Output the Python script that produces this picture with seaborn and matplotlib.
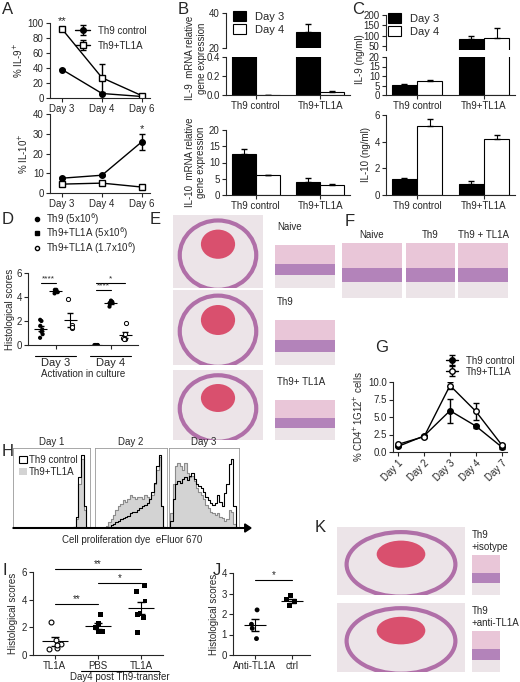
import numpy as np
import pandas as pd
import matplotlib
matplotlib.use("Agg")
import matplotlib.pyplot as plt
import seaborn as sns
from matplotlib.patches import Ellipse, Rectangle

sns.set_style("ticks")
plt.rcParams['font.family'] = ['Liberation Sans', 'DejaVu Sans']
plt.rcParams['font.size'] = 7
plt.rcParams['axes.linewidth'] = 0.8

# ---- data ----
days_a = ["Day 3", "Day 4", "Day 6"]
il9_ctrl = [38, 6, 2]
il9_ctrl_err = [1, 1, 0.5]
il9_tl1a = [92, 27, 3]
il9_tl1a_err = [1, 19, 0.5]
il10_ctrl = [7.5, 9, 26]
il10_ctrl_err = [0.5, 0.5, 4]
il10_tl1a = [4.5, 5, 3]
il10_tl1a_err = [0.5, 0.5, 0.5]

groups_bc = ["Th9 control", "Th9+TL1A"]
days_bc = ["Day 3", "Day 4"]
il9_mrna = {"Day 3": [15, 29], "Day 4": [0.003, 0.035]}
il9_mrna_err = {"Day 3": [2, 5], "Day 4": [0.001, 0.005]}
il10_mrna = {"Day 3": [12.5, 4], "Day 4": [6.2, 3.2]}
il10_mrna_err = {"Day 3": [1.8, 1.2], "Day 4": [0.1, 0.2]}
il9_prot = {"Day 3": [5.2, 85], "Day 4": [7.3, 90]}
il9_prot_err = {"Day 3": [0.5, 12], "Day 4": [0.5, 45]}
il10_prot = {"Day 3": [1.2, 0.8], "Day 4": [5.2, 4.2]}
il10_prot_err = {"Day 3": [0.1, 0.25], "Day 4": [0.5, 0.3]}

d_labels = ["Th9 (5x10$^6$)", "Th9+TL1A (5x10$^6$)", "Th9+TL1A (1.7x10$^6$)"]
d_day3 = [[2.1, 2.0, 1.6, 1.3, 1.1, 0.9, 0.6], [4.6, 4.5, 4.4, 4.3, 4.6], [3.8, 1.7, 1.4, 1.5]]
d_day4 = [[0, 0, 0, 0, 0], [3.7, 3.6, 3.5, 3.4, 3.2, 3.6], [1.8, 0.9, 0.6, 0.5, 0.5]]

days_g = ["Day 1", "Day 2", "Day 3", "Day 4", "Day 7"]
g_ctrl = [0.8, 2.3, 5.9, 3.7, 0.7]
g_ctrl_err = [0.1, 0.2, 1.7, 0.2, 0.2]
g_tl1a = [1.1, 2.2, 9.5, 5.8, 1.0]
g_tl1a_err = [0.1, 0.2, 0.5, 1.2, 0.2]

h_days = ["Day 1", "Day 2", "Day 3"]
h_ctrl = [
    [0]*24 + [0.02, 0.15, 0.7, 1.0, 0.3, 0.02],
    [0]*6 + [0.02, 0.04, 0.06, 0.08, 0.1, 0.12, 0.14, 0.15, 0.17, 0.2, 0.22, 0.22, 0.25, 0.28, 0.3, 0.32, 0.35, 0.4, 0.5, 0.62, 0.85, 1.0, 0.3, 0.02],
    [0.02, 0.1, 0.4, 0.6, 0.65, 0.62, 0.68, 0.7, 0.66, 0.72, 0.75, 0.68, 0.6, 0.58, 0.55, 0.5, 0.42, 0.38, 0.35, 0.32, 0.35, 0.45, 0.36, 0.3, 0.48, 0.6, 0.88, 0.95, 0.3, 0.02],
]
h_tl1a = [
    [0]*24 + [0.02, 0.12, 0.6, 0.95, 0.25, 0.02],
    [0]*5 + [0.03, 0.08, 0.12, 0.18, 0.25, 0.3, 0.33, 0.38, 0.36, 0.4, 0.45, 0.42, 0.4, 0.43, 0.42, 0.4, 0.45, 0.42, 0.4, 0.45, 0.6, 0.8, 0.98, 0.3, 0.02],
    [0.02, 0.2, 0.6, 0.85, 0.9, 0.85, 0.8, 0.9, 0.75, 0.7, 0.72, 0.65, 0.55, 0.5, 0.45, 0.4, 0.32, 0.28, 0.22, 0.2, 0.18, 0.2, 0.15, 0.14, 0.1, 0.12, 0.25, 0.22, 0.05, 0.01],
]

i_groups = ["TL1A", "PBS", "TL1A "]
i_vals = [[2.4, 1.1, 0.8, 0.5, 0.4, 0.7], [2.9, 2.3, 2.0, 1.7, 1.7], [5.0, 4.6, 3.9, 3.0, 2.9, 2.7, 1.6]]
j_groups = ["Anti-TL1A", "ctrl"]
j_vals = [[2.2, 1.5, 1.3, 0.8], [2.9, 2.7, 2.6, 2.4]]

W, H = 520, 682
fig = plt.figure(figsize=(W / 100, H / 100), dpi=100)


def ax_px(x0, y0, x1, y1, **kw):
    return fig.add_axes([x0 / W, 1 - y1 / H, (x1 - x0) / W, (y1 - y0) / H], **kw)


def letter(x, y, s):
    fig.text(x / W, 1 - y / H, s, fontsize=12, va="top", ha="left")


def despine(ax):
    sns.despine(ax=ax)
    ax.tick_params(length=3, width=0.8, pad=1.5)


# ---- A ----
for (y0, y1), c, ce, t, te, ylab, ylim, yt in [
        ((23, 98), il9_ctrl, il9_ctrl_err, il9_tl1a, il9_tl1a_err, "% IL-9$^{+}$", 100, range(0, 101, 20)),
        ((114, 193), il10_ctrl, il10_ctrl_err, il10_tl1a, il10_tl1a_err, "% IL-10$^{+}$", 40, range(0, 41, 10))]:
    ax = ax_px(50, y0, 150, y1)
    x = np.arange(3)
    ax.errorbar(x, c, yerr=ce, color="black", marker="o", ms=4, lw=1, capsize=2, label="Th9 control")
    ax.errorbar(x, t, yerr=te, color="black", marker="s", ms=4, mfc="white", lw=1, capsize=2, label="Th9+TL1A")
    ax.set_xticks(x, days_a)
    ax.set_xlim(-0.3, 2.2)
    ax.set_ylim(0, ylim)
    ax.set_yticks(list(yt))
    ax.set_ylabel(ylab, labelpad=2)
    despine(ax)
    if ylim == 100:
        ax.legend(frameon=False, loc="upper right", bbox_to_anchor=(1.05, 1.08), handlelength=1.5, fontsize=7)
        ax.text(0, 98, "**", ha="center", fontsize=8)
    else:
        ax.text(2, 31, "*", ha="center", fontsize=8)
letter(2, 2, "A")


def bars(ax, data, err, legend=False):
    df = pd.DataFrame([(g, d, data[d][i]) for d in days_bc for i, g in enumerate(groups_bc)],
                      columns=["group", "day", "val"])
    sns.barplot(data=df, x="group", y="val", hue="day", palette=["black", "white"],
                edgecolor="black", linewidth=0.8, width=0.75, errorbar=None, ax=ax, legend=legend)
    k = 0
    for d in days_bc:
        for i in range(2):
            p = ax.patches[k]
            xc = p.get_x() + p.get_width() / 2
            ax.errorbar(xc, data[d][i], yerr=[[0], [err[d][i]]], color="black", lw=0.8, capsize=2.5)
            k += 1
    ax.set_xlabel("")
    ax.set_ylabel("")


def broken(xr, yu, yl, data, err, lim_u, tick_u, lim_l, tick_l, ylab, leg_x, lab_dx):
    au = ax_px(xr[0], yu[0], xr[1], yu[1])
    al = ax_px(xr[0], yl[0], xr[1], yl[1])
    bars(au, data, err, legend=True)
    bars(al, data, err)
    au.set_ylim(*lim_u); au.set_yticks(tick_u)
    al.set_ylim(*lim_l); al.set_yticks(tick_l)
    au.set_xticks([])
    for a in (au, al):
        despine(a)
    au.spines["bottom"].set_visible(False)
    au.tick_params(axis="x", length=0)
    au.legend(frameon=False, loc="upper left", bbox_to_anchor=(leg_x, 1.18), fontsize=8,
              handlelength=1.2, handleheight=1.0, labelspacing=0.2, borderaxespad=0)
    fig.text((xr[0] - lab_dx) / W, 1 - (yu[0] + 8 + yl[1]) / 2 / H, ylab, rotation=90,
             va="center", ha="center")
    return au, al


# ---- B ----
broken((226, 350), (13, 48), (57, 95), il9_mrna, il9_mrna_err, (20, 40), [20, 40],
       (0, 0.4), [0.0, 0.2, 0.4], "IL-9  mRNA relative\ngene expression", 0.02, 30)
ax = ax_px(226, 130, 350, 195)
bars(ax, il10_mrna, il10_mrna_err)
ax.set_ylim(0, 20); ax.set_yticks([0, 5, 10, 15, 20])
ax.set_ylabel("IL-10  mRNA relative\ngene expression", labelpad=2)
despine(ax)
letter(178, 2, "B")

# ---- C ----
broken((386, 515), (15, 50), (57, 95), il9_prot, il9_prot_err, (30, 200), [50, 100, 150, 200],
       (0, 20), [0, 5, 10, 15, 20], "IL-9 (ng/ml)", -0.02, 26)
ax = ax_px(386, 115, 515, 195)
bars(ax, il10_prot, il10_prot_err)
ax.set_ylim(0, 6); ax.set_yticks([0, 2, 4, 6])
ax.set_ylabel("IL-10 (ng/ml)", labelpad=2)
despine(ax)
letter(352, 2, "C")

# ---- D ----
ax = ax_px(28, 273, 138, 345)
rows = []
for day, sets in [("Day 3", d_day3), ("Day 4", d_day4)]:
    for lab, vals in zip(d_labels, sets):
        rows += [(day, lab, v) for v in vals]
dfd = pd.DataFrame(rows, columns=["day", "group", "score"])
mk = {d_labels[0]: "o", d_labels[1]: "s", d_labels[2]: "o"}
fc = ["black", "black", "white"]
sns.stripplot(data=dfd, x="day", y="score", hue="group", dodge=True, jitter=0.12, size=3,
              palette=["black", "black", "black"], ax=ax, legend=False)
for coll in ax.collections[2::3]:
    coll.set_facecolor("white"); coll.set_edgecolor("black"); coll.set_linewidth(0.7)
offs = [-0.27, 0, 0.27]
for di, sets in enumerate([d_day3, d_day4]):
    for gi, vals in enumerate(sets):
        m = np.mean(vals); s = np.std(vals, ddof=1) / np.sqrt(len(vals))
        xc = di + offs[gi]
        ax.hlines(m, xc - 0.12, xc + 0.12, color="black", lw=0.8)
        ax.errorbar(xc, m, yerr=s, color="black", lw=0.8, capsize=2)
ax.set_ylim(0, 6); ax.set_yticks([0, 2, 4, 6])
ax.set_xlim(-0.5, 1.5)
ax.set_xticks([0, 1], ["", ""])
ax.set_xlabel(""); ax.set_ylabel("Histological scores", labelpad=1)
despine(ax)
for x0, x1, y, s in [(-0.27, 0, 5.2, "****"), (0.73, 1.0, 4.6, "****"), (0.73, 1.27, 5.2, "*")]:
    ax.plot([x0, x1], [y, y], color="black", lw=0.8, clip_on=False)
    ax.text((x0 + x1) / 2, y, s, ha="center", va="bottom", fontsize=6)
for xc in (0, 1):
    ax.plot([xc - 0.38, xc + 0.38], [-0.9, -0.9], color="black", lw=0.8, clip_on=False)
    ax.text(xc, -1.1, "Day 3" if xc == 0 else "Day 4", ha="center", va="top", fontsize=8)
ax.text(0.5, -2.0, "Activation in culture", ha="center", va="top", fontsize=7)
for i, lab in enumerate(d_labels):
    ax.plot(0.08, 1.75 - i * 0.2, mk[lab], ms=3, mfc=fc[i], mec="black", transform=ax.transAxes, clip_on=False)
    ax.text(0.16, 1.75 - i * 0.2, lab, va="center", transform=ax.transAxes, fontsize=7)
letter(2, 212, "D")


# ---- image panels (histology placeholders) ----
def histo(x0, y0, x1, y1, eye=False):
    a = ax_px(x0, y0, x1, y1)
    a.set_xlim(0, 1); a.set_ylim(0, 1)
    a.set_facecolor("#ece4e8")
    if eye:
        a.add_patch(Ellipse((0.5, 0.45), 0.85, 0.95, fc="none", ec="#b06fa8", lw=3))
        a.add_patch(Ellipse((0.5, 0.6), 0.38, 0.4, fc="#d9506e", ec="none"))
    else:
        a.add_patch(Rectangle((0, 0.3), 1, 0.25, fc="#b383ba", ec="none"))
        a.add_patch(Rectangle((0, 0.55), 1, 0.45, fc="#e9c6d8", ec="none"))
    a.set_xticks([]); a.set_yticks([])
    for s in a.spines.values():
        s.set_visible(False)
    return a


for (y0, y1), lab in zip([(215, 288), (290, 365), (370, 440)], ["Naive", "Th9", "Th9+ TL1A"]):
    histo(173, y0, 263, y1, eye=True)
    histo(275, y0 + 30, 335, y1)
    fig.text(277 / W, 1 - (y0 + 12) / H, lab, fontsize=7, va="center")
letter(150, 212, "E")

for (x0, x1), lab in zip([(342, 402), (406, 455), (458, 508)], ["Naive", "Th9", "Th9 + TL1A"]):
    histo(x0, 243, x1, 298)
    fig.text((x0 + x1) / 2 / W, 1 - 238 / H, lab, ha="center", fontsize=7)
letter(345, 214, "F")

for (y0, y1), lab in zip([(527, 595), (603, 672)], ["Th9\n+isotype", "Th9\n+anti-TL1A"]):
    histo(337, y0, 465, y1, eye=True)
    histo(472, y0 + 28, 500, y1)
    fig.text(472 / W, 1 - (y0 + 3) / H, lab, fontsize=7, va="top")
letter(315, 520, "K")

# ---- G ----
ax = ax_px(393, 382, 507, 452)
x = np.arange(5)
ax.errorbar(x, g_ctrl, yerr=g_ctrl_err, color="black", marker="o", ms=4, lw=1, capsize=2, label="Th9 control")
ax.errorbar(x, g_tl1a, yerr=g_tl1a_err, color="black", marker="o", ms=4, mfc="white", lw=1, capsize=2, label="Th9+TL1A")
ax.set_xticks(x, days_g, rotation=45, ha="right", rotation_mode="anchor")
ax.set_ylim(0, 10); ax.set_yticks([0, 2.5, 5, 7.5, 10])
ax.yaxis.set_major_formatter(matplotlib.ticker.FormatStrFormatter("%.1f"))
ax.set_ylabel("% CD4$^{+}$1G12$^{+}$ cells", labelpad=2)
despine(ax)
ax.legend(frameon=False, loc="lower right", bbox_to_anchor=(1.1, 1.02), handlelength=1.2, fontsize=7,
          labelspacing=0.1, borderaxespad=0)
letter(375, 340, "G")

# ---- H ----
for k, (x0, x1) in enumerate([(13, 90), (95, 167), (169, 239)]):
    ax = ax_px(x0, 448, x1, 528)
    b = np.arange(len(h_ctrl[k]))
    ax.fill_between(b, h_tl1a[k], step="mid", color="#d3d3d3", lw=0)
    ax.step(b, h_tl1a[k], where="mid", color="#8c8c8c", lw=0.8)
    ax.step(b, h_ctrl[k], where="mid", color="black", lw=0.8)
    ax.set_xlim(0, 30); ax.set_ylim(0, 1.1)
    ax.set_xticks([]); ax.set_yticks([])
    for s in ax.spines.values():
        s.set_color("#999999"); s.set_linewidth(0.6)
    ax.spines["bottom"].set_color("black")
    ax.set_title(h_days[k], fontsize=7, pad=2)
    if k == 0:
        ax.legend(handles=[Rectangle((0, 0), 1, 1, fc="white", ec="black", lw=0.8),
                           Rectangle((0, 0), 1, 1, fc="#d3d3d3", ec="none")],
                  labels=["Th9 control", "Th9+TL1A"], frameon=False, loc="upper left",
                  bbox_to_anchor=(-0.03, 1.02), fontsize=7, handlelength=0.8, handletextpad=0.2,
                  labelspacing=0.2)
fig.add_artist(matplotlib.patches.FancyArrow(13 / W, 1 - 528 / H, 238 / W, 0, width=0.001,
                                             head_width=0.012, head_length=0.012, color="black",
                                             length_includes_head=True, transform=fig.transFigure))
fig.text(132 / W, 1 - 540 / H, "Cell proliferation dye  eFluor 670", ha="center", va="center", fontsize=7)
letter(2, 444, "H")


def scatter_panel(ax, groups, vals, markers, fills):
    rows = [(g, v) for g, vs in zip(groups, vals) for v in vs]
    df = pd.DataFrame(rows, columns=["grp", "score"])
    sns.stripplot(data=df, x="grp", y="score", hue="grp", jitter=0.15, size=3.5,
                  palette=["black"] * len(groups), ax=ax, legend=False)
    for i, coll in enumerate(ax.collections):
        if not fills[i]:
            coll.set_facecolor("white"); coll.set_edgecolor("black"); coll.set_linewidth(0.8)
        if markers[i] == "s":
            coll.set_paths([matplotlib.markers.MarkerStyle("s").get_path().transformed(
                matplotlib.markers.MarkerStyle("s").get_transform())])
    for i, vs in enumerate(vals):
        m = np.mean(vs); s = np.std(vs, ddof=1) / np.sqrt(len(vs))
        ax.hlines(m, i - 0.3, i + 0.3, color="black", lw=0.8)
        ax.errorbar(i, m, yerr=s, color="black", lw=0.8, capsize=3)
    ax.set_xlabel(""); ax.set_ylabel("Histological scores", labelpad=2)
    despine(ax)


# ---- I ----
ax = ax_px(33, 572, 163, 655)
scatter_panel(ax, i_groups, i_vals, ["o", "s", "s"], [False, True, True])
ax.set_ylim(0, 6); ax.set_yticks([0, 2, 4, 6]); ax.set_xlim(-0.5, 2.5)
ax.set_xticklabels(["TL1A", "PBS", "TL1A"])
for x0, x1, y, s in [(0, 1, 3.7, "**"), (1, 2, 5.2, "*"), (0, 2, 6.2, "**")]:
    ax.plot([x0, x1], [y, y], color="black", lw=0.8, clip_on=False)
    ax.text((x0 + x1) / 2, y, s, ha="center", va="bottom", fontsize=7)
ax.plot([0.6, 2.4], [-1.15, -1.15], color="black", lw=0.8, clip_on=False)
ax.text(1.5, -1.25, "Day4 post Th9-transfer", ha="center", va="top", fontsize=7)
letter(2, 563, "I")

# ---- J ----
ax = ax_px(233, 573, 310, 655)
scatter_panel(ax, j_groups, j_vals, ["o", "s"], [True, True])
ax.set_ylim(0, 4); ax.set_yticks([0, 1, 2, 3, 4]); ax.set_xlim(-0.6, 1.5)
ax.plot([0, 1], [3.65, 3.65], color="black", lw=0.8)
ax.text(0.5, 3.65, "*", ha="center", va="bottom", fontsize=7)
letter(213, 563, "J")

fig.savefig("out.png", dpi=100)
